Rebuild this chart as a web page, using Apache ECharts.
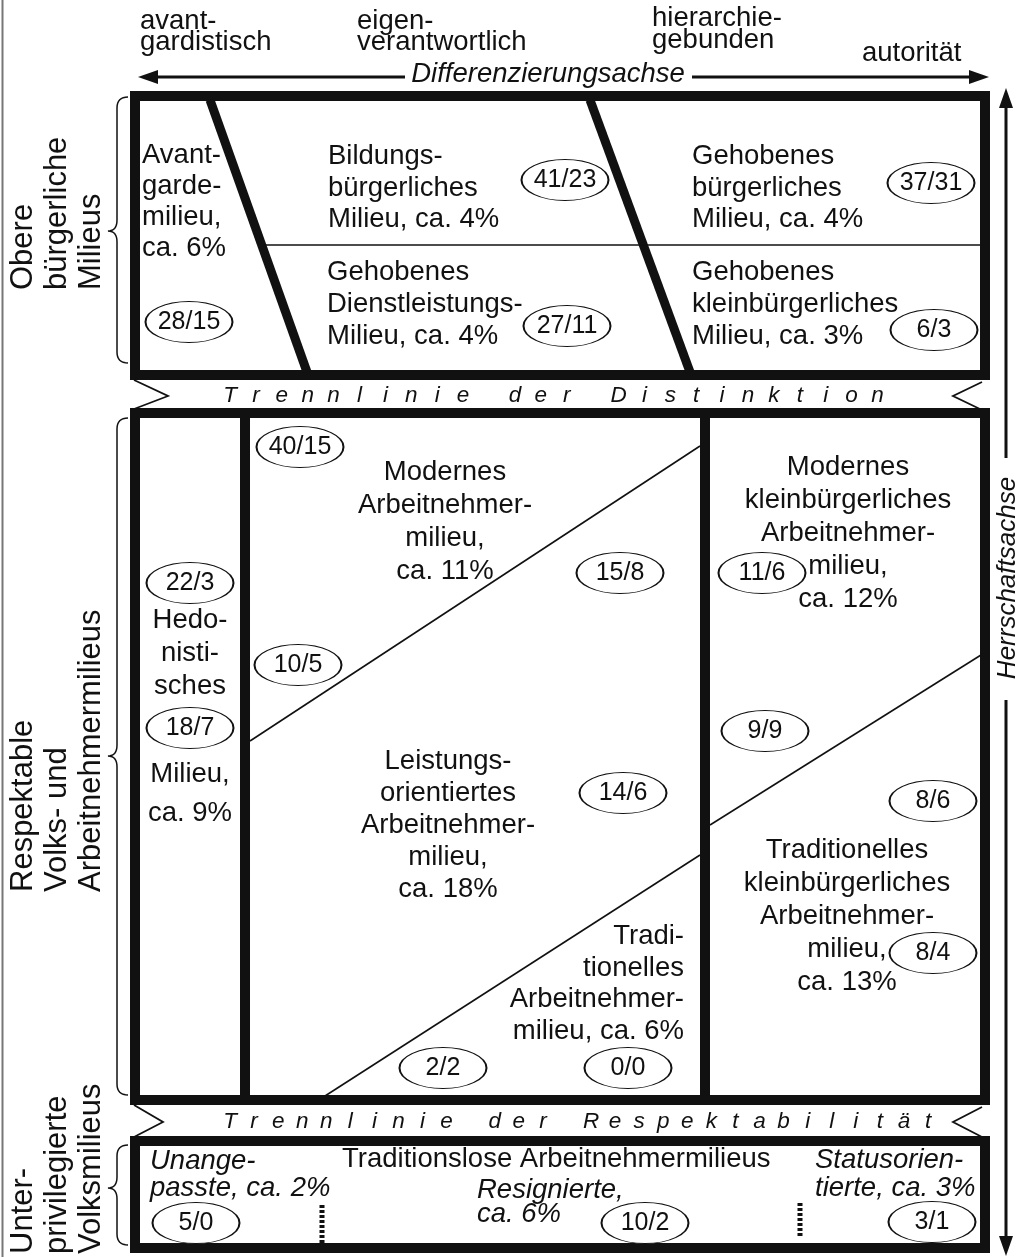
<!DOCTYPE html>
<html lang="de">
<head>
<meta charset="UTF-8">
<title>Milieus und Trennlinien</title>
<script src="https://cdn.jsdelivr.net/npm/echarts/dist/echarts.min.js"></script>
<style>
  html, body { margin: 0; padding: 0; background: #fff; }
  #main { width: 1019px; height: 1257px; }
</style>
</head>
<body>
<div id="main"></div>
<script type="text/javascript">
// ---- data ----
var milieuLabels = [
    'Avant-\ngarde-\nmilieu,\nca. 6%',
    'Bildungs-\nbürgerliches\nMilieu, ca. 4%',
    'Gehobenes\nbürgerliches\nMilieu, ca. 4%',
    'Gehobenes\nDienstleistungs-\nMilieu, ca. 4%',
    'Gehobenes\nkleinbürgerliches\nMilieu, ca. 3%',
    'Hedo-\nnisti-\nsches',
    'Milieu,\nca. 9%',
    'Modernes\nArbeitnehmer-\nmilieu,\nca. 11%',
    'Leistungs-\norientiertes\nArbeitnehmer-\nmilieu,\nca. 18%',
    'Tradi-\ntionelles\nArbeitnehmer-\nmilieu, ca. 6%',
    'Modernes\nkleinbürgerliches\nArbeitnehmer-\nmilieu,\nca. 12%',
    'Traditionelles\nkleinbürgerliches\nArbeitnehmer-\nmilieu,\nca. 13%',
    'Unange-\npasste, ca. 2%',
    'Resignierte,\nca. 6%',
    'Statusorien-\ntierte, ca. 3%'
];
var subGroupLabel = 'Traditionslose Arbeitnehmermilieus';
var ratioLabels = ['28/15', '41/23', '37/31', '27/11', '6/3', '40/15', '15/8', '22/3', '10/5', '18/7',
    '11/6', '14/6', '9/9', '8/6', '8/4', '2/2', '0/0', '5/0', '10/2', '3/1'];
var headerLabels = ['avant-\ngardistisch', 'eigen-\nverantwortlich', 'hierarchie-\ngebunden', 'autorität'];
var axisNames = ['Differenzierungsachse', 'Herrschaftsachse'];
var groupLabels = ['Obere\nbürgerliche\nMilieus', 'Respektable\nVolks- und\nArbeitnehmermilieus', 'Unter-\nprivilegierte\nVolksmilieus'];
var dividerLabels = ['Trennlinie der Distinktion', 'Trennlinie der Respektabilität'];

// ---- layout (positions on the hidden 1019 x 1257 axes) ----
// [x, y, align, lineHeight, italic]
var milieuLayout = [
    [142, 202, 'left', 31, 0],
    [328, 188, 'left', 31.5, 0],
    [692, 188, 'left', 31.5, 0],
    [327, 304, 'left', 32, 0],
    [692, 304, 'left', 32, 0],
    [190, 653, 'center', 33, 0],
    [190, 794, 'center', 39, 0],
    [445, 522, 'center', 33, 0],
    [448, 825, 'center', 32, 0],
    [684, 984, 'right', 31.5, 0],
    [848, 533, 'center', 33, 0],
    [847, 916, 'center', 33, 0],
    [150, 1175, 'left', 27, 1],
    [477, 1202, 'left', 24, 1],
    [815, 1174, 'left', 28, 1]
];
var subGroupLayout = [342, 1159];
var ratioLayout = [
    [189, 322], [565, 180], [931, 183], [567, 326], [934, 330],
    [300, 447], [620, 573], [190, 583], [298, 665], [190, 728],
    [762, 573], [623, 793], [765, 731], [933, 801], [933, 953],
    [443, 1068], [628, 1068], [196, 1223], [645, 1223], [932, 1222]
];
var headerLayout = [[140, 32, 21], [357, 32, 21], [652, 29, 22], [862, 53, 22]];
var axisNameLayout = [[548, 74, 0], [1008, 578, 1]];
var groupLayout = [[57, 290], [57, 892], [57, 1254]];
// first letter x, pitch, y
var dividerLayout = [[230, 25.9, 396], [230, 24.07, 1122]];

var INK = '#111';
var FONT = '"Liberation Sans", Arial, Helvetica, sans-serif';

// ---- text items ----
var texts = [];
function addText(str, x, y, o) {
    var t = {t: str, x: x, y: y, align: 'left', size: 27.5, italic: 0, rot: 0, lh: 32};
    for (var k in o) t[k] = o[k];
    texts.push(t);
}
milieuLabels.forEach(function (s, i) {
    var L = milieuLayout[i];
    addText(s, L[0], L[1], {align: L[2], lh: L[3], italic: L[4]});
});
addText(subGroupLabel, subGroupLayout[0], subGroupLayout[1], {});
headerLabels.forEach(function (s, i) {
    var L = headerLayout[i];
    addText(s, L[0], L[1], {lh: L[2]});
});
axisNames.forEach(function (s, i) {
    var L = axisNameLayout[i];
    addText(s, L[0], L[1], {align: 'center', italic: 1, rot: L[2], size: L[2] ? 26 : 27.5});
});
groupLabels.forEach(function (s, i) {
    var L = groupLayout[i];
    addText(s, L[0], L[1], {rot: 1, size: 31, lh: 34});
});
dividerLabels.forEach(function (s, i) {
    var L = dividerLayout[i];
    s.split('').forEach(function (ch, k) {
        if (ch !== ' ') addText(ch, L[0] + k * L[1], L[2], {align: 'center', italic: 1, size: 22.5});
    });
});

// ---- strokes (frame, dividers, arrows) ----
var strokes = [];
function rect(x0, y0, x1, y1, w) {
    strokes.push({pts: [[x0, y0], [x1, y0], [x1, y1], [x0, y1]], w: w, closed: true});
}
function seg(pts, w, extra) {
    var s = {pts: pts, w: w};
    for (var k in extra) s[k] = extra[k];
    strokes.push(s);
}
function brace(x, y0, y1, ym) {
    var pts = [];
    function q(a, c, b) {
        for (var i = 0; i <= 8; i++) {
            var t = i / 8, u = 1 - t;
            pts.push([u * u * a[0] + 2 * u * t * c[0] + t * t * b[0], u * u * a[1] + 2 * u * t * c[1] + t * t * b[1]]);
        }
    }
    q([x + 11, y0], [x, y0], [x, y0 + 11]);
    q([x, ym - 11], [x, ym], [x - 9, ym]);
    q([x - 9, ym], [x, ym], [x, ym + 11]);
    q([x, y1 - 11], [x, y1], [x + 11, y1]);
    seg(pts, 1.5);
}

seg([[2.5, 0], [2.5, 1257]], 2, {color: '#777'});
rect(135, 96, 985, 375, 10);
rect(135, 413, 985, 1100, 10);
rect(135, 1141, 985, 1248, 10);
seg([[210, 100], [307, 372]], 9);
seg([[590, 100], [690, 372]], 9);
seg([[245, 418], [245, 1096]], 10);
seg([[705, 418], [705, 1096]], 10);
seg([[262, 245], [981, 245]], 1.6);
seg([[250, 741], [700, 446]], 1.6);
seg([[325, 1096], [700, 855]], 1.6);
seg([[710, 825], [981, 655]], 1.6);
seg([[134, 380], [168, 396], [134, 409]], 1.8);
seg([[982, 382], [953, 396], [982, 410]], 1.8);
seg([[134, 1105], [163, 1122], [134, 1137]], 1.8);
seg([[982, 1107], [953, 1122], [982, 1137]], 1.8);
seg([[322, 1205], [322, 1243]], 5, {dash: [3, 2]});
seg([[800, 1203], [800, 1236]], 5, {dash: [3, 2]});
seg([[154, 77], [405, 77]], 3);
seg([[692, 77], [972, 77]], 3);
seg([[1006, 104], [1006, 458]], 3);
seg([[1006, 700], [1006, 1240]], 3);
seg([[138, 77], [158, 70], [158, 84]], 0, {fill: true});
seg([[989, 77], [969, 70], [969, 84]], 0, {fill: true});
seg([[1006, 88], [999, 108], [1013, 108]], 0, {fill: true});
seg([[1006, 1256], [999, 1236], [1013, 1236]], 0, {fill: true});
brace(117, 97, 363, 231);
brace(117, 418, 1095, 756);
brace(117, 1145, 1245, 1188);

var chart = echarts.init(document.getElementById('main'));
chart.setOption({
    animation: false,
    backgroundColor: '#fff',
    grid: {left: 0, right: 0, top: 0, bottom: 0},
    xAxis: {type: 'value', min: 0, max: 1019, show: false},
    yAxis: {type: 'value', min: 0, max: 1257, inverse: true, show: false},
    series: [
        {
            type: 'custom',
            z: 1,
            silent: true,
            clip: false,
            data: strokes.map(function (s) { return s.pts[0]; }),
            renderItem: function (params, api) {
                var d = strokes[params.dataIndex];
                var pts = d.pts.map(function (p) { return api.coord(p); });
                if (d.fill) {
                    return {type: 'polygon', shape: {points: pts}, style: {fill: INK}};
                }
                return {
                    type: d.closed ? 'polygon' : 'polyline',
                    shape: {points: pts},
                    style: {
                        fill: 'none', stroke: d.color || INK, lineWidth: d.w,
                        lineDash: d.dash || null, lineJoin: 'miter', lineCap: 'butt'
                    }
                };
            }
        },
        {
            type: 'custom',
            z: 2,
            silent: true,
            clip: false,
            data: texts.map(function (t) { return [t.x, t.y]; }),
            renderItem: function (params, api) {
                var d = texts[params.dataIndex];
                var p = api.coord([api.value(0), api.value(1)]);
                return {
                    type: 'text',
                    x: p[0],
                    y: p[1],
                    rotation: d.rot ? Math.PI / 2 : 0,
                    style: {
                        text: d.t,
                        fill: INK,
                        font: (d.italic ? 'italic ' : '') + d.size + 'px ' + FONT,
                        align: d.align,
                        verticalAlign: 'middle',
                        textAlign: d.align,
                        textVerticalAlign: 'middle',
                        lineHeight: d.lh
                    }
                };
            }
        },
        {
            type: 'scatter',
            z: 3,
            silent: true,
            symbol: 'circle',
            symbolSize: [87, 41],
            data: ratioLabels.map(function (r, i) { return {name: r, value: ratioLayout[i]}; }),
            itemStyle: {color: '#fff', borderColor: INK, borderWidth: 1.4, opacity: 1},
            label: {
                show: true,
                position: 'inside',
                formatter: '{b}',
                color: INK,
                fontSize: 25,
                fontFamily: FONT
            },
            emphasis: {disabled: true}
        }
    ]
});
</script>
</body>
</html>
